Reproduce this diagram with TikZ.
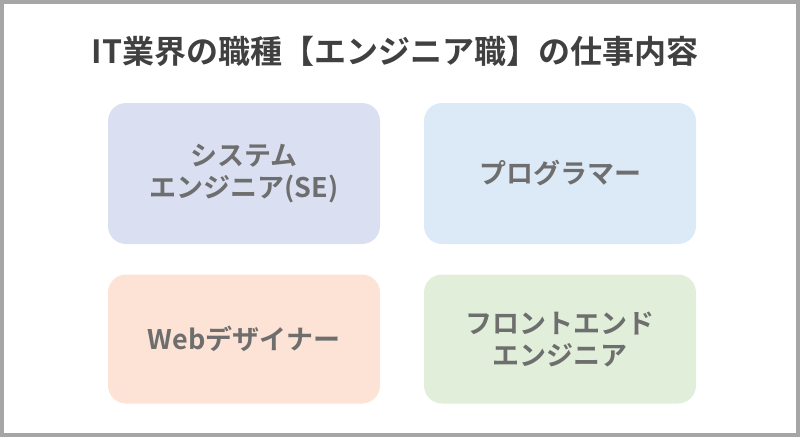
\documentclass[tikz,border=0pt]{standalone}
\usepackage{fontspec}
\setmainfont{Noto Sans CJK JP}[BoldFont={* Bold}]
\definecolor{frame}{HTML}{A6A6A6}
\definecolor{titlec}{HTML}{404040}
\definecolor{txt}{HTML}{6E6E6E}
\definecolor{cA}{HTML}{DAE0F2}
\definecolor{cB}{HTML}{DCE9F6}
\definecolor{cC}{HTML}{FCE3D5}
\definecolor{cD}{HTML}{E1EFDA}
\begin{document}
\begin{tikzpicture}[x=1pt,y=-1pt,
  card/.style={rounded corners=18pt,minimum width=272pt,minimum height=141pt,inner sep=0pt,
    text=txt,font=\bfseries\fontsize{27}{32}\selectfont,align=center}]
\useasboundingbox (0,0) rectangle (800,437);
\draw[frame,line width=4pt] (2,2) rectangle (798,435);
\node[text=titlec,font=\bfseries\fontsize{32}{36}\selectfont] (title) at (395,51) {IT業界の職種【エンジニア職】の仕事内容};
\node[card,fill=cA] (se) at (244,173.5) {システム\\エンジニア(SE)};
\node[card,fill=cB] (pg) at (560,173.5) {プログラマー};
\node[card,fill=cC,minimum height=129pt] (web) at (244,339) {Webデザイナー};
\node[card,fill=cD,minimum height=129pt] (fe) at (560,339) {フロントエンド\\エンジニア};
\end{tikzpicture}
\end{document}
